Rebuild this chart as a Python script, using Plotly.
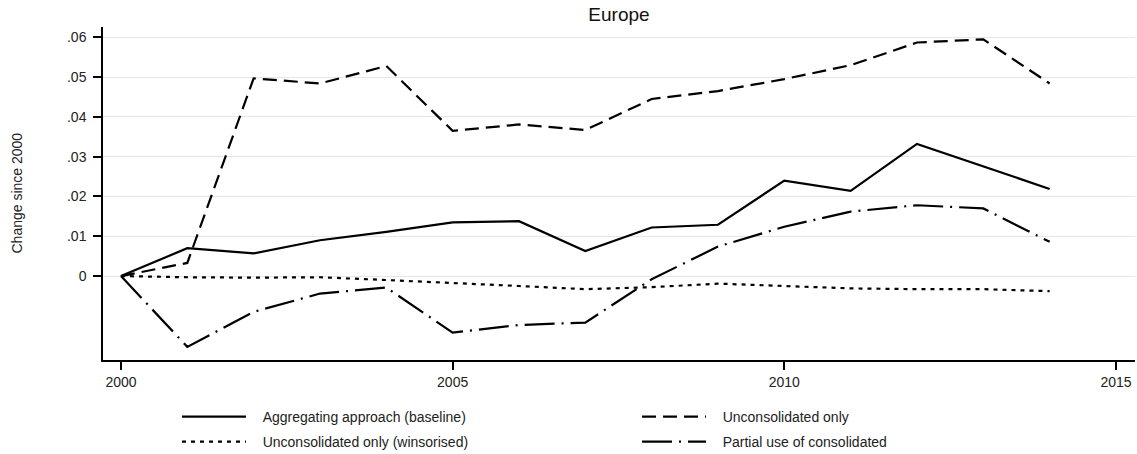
import plotly.graph_objects as go

years = list(range(2000, 2015))

aggregating = [0, 0.0070, 0.0057, 0.0090, 0.0111, 0.0135, 0.0138, 0.0063,
               0.0122, 0.0129, 0.0240, 0.0214, 0.0332, 0.0275, 0.0219]
unconsolidated = [0, 0.0033, 0.0497, 0.0484, 0.0528, 0.0365, 0.0381, 0.0367,
                  0.0445, 0.0465, 0.0495, 0.0530, 0.0587, 0.0595, 0.0484]
winsorised = [0, -0.0003, -0.0004, -0.0003, -0.0010, -0.0017, -0.0025, -0.0033,
              -0.0028, -0.0019, -0.0025, -0.0031, -0.0033, -0.0033, -0.0038]
partial = [0, -0.0178, -0.0090, -0.0044, -0.0029, -0.0142, -0.0123, -0.0117,
           -0.0008, 0.0074, 0.0124, 0.0162, 0.0178, 0.0170, 0.0086]

y_tickvals = [0, 0.01, 0.02, 0.03, 0.04, 0.05, 0.06]
y_ticktext = ["0", ".01", ".02", ".03", ".04", ".05", ".06"]
x_tickvals = [2000, 2005, 2010, 2015]

FONT = "Liberation Sans, Arial, sans-serif"
PAD = "\u00a0" * 3  # small gap between legend key and label

series = [
    ("Aggregating approach (baseline)", aggregating, "solid", "legend"),
    ("Unconsolidated only", unconsolidated, "14px,7px", "legend"),
    ("Unconsolidated only (winsorised)", winsorised, "4px,5px", "legend2"),
    ("Partial use of consolidated", partial, "30px,7px,2px,7px", "legend2"),
]

fig = go.Figure()
for name, vals, dash, leg in series:
    fig.add_trace(go.Scatter(
        x=years, y=vals, mode="lines", name=PAD + name, legend=leg,
        line=dict(color="black", width=2.2, dash=dash),
    ))

legend_common = dict(
    orientation="h", xanchor="left", yanchor="top",
    xref="paper", yref="container",
    entrywidth=381, entrywidthmode="pixels",
    itemwidth=64, font=dict(family=FONT, size=14, color="#222"),
    bgcolor="rgba(0,0,0,0)", traceorder="normal",
)

fig.update_layout(
    width=1137, height=454,
    margin=dict(l=103, r=2, t=27, b=94),
    paper_bgcolor="white", plot_bgcolor="white",
    font=dict(family=FONT, size=14, color="#222"),
    title=dict(text="Europe", x=0.5, xref="paper", xanchor="center",
               y=1 - 14 / 454, yanchor="middle",
               font=dict(family=FONT, size=19, color="#111")),
    xaxis=dict(
        range=[1999.729, 2015.287], tickvals=x_tickvals,
        ticks="outside", ticklen=8, tickwidth=1.5, tickcolor="black",
        showline=True, linecolor="black", linewidth=1.5,
        showgrid=False, zeroline=False,
        tickfont=dict(family=FONT, size=14, color="#222"),
    ),
    yaxis=dict(
        range=[-0.0211, 0.0626], tickvals=y_tickvals, ticktext=y_ticktext,
        ticks="outside", ticklen=8, tickwidth=1.5, tickcolor="black",
        ticklabelstandoff=4,
        showline=True, linecolor="black", linewidth=1.5,
        showgrid=True, gridcolor="#e6e6e6", gridwidth=1, zeroline=False,
        tickfont=dict(family=FONT, size=14, color="#222"),
    ),
    legend=dict(x=(177 - 103) / 1032, y=1 - 401 / 454, **legend_common),
    legend2=dict(x=(177 - 103) / 1032, y=1 - 426 / 454, **legend_common),
    annotations=[dict(
        text="Change since 2000", textangle=-90, showarrow=False,
        xref="paper", yref="paper", x=(16 - 103) / 1032, y=0.5,
        xanchor="center", yanchor="middle",
        font=dict(family=FONT, size=14, color="#222"),
    )],
)

fig.write_html("out.html")
